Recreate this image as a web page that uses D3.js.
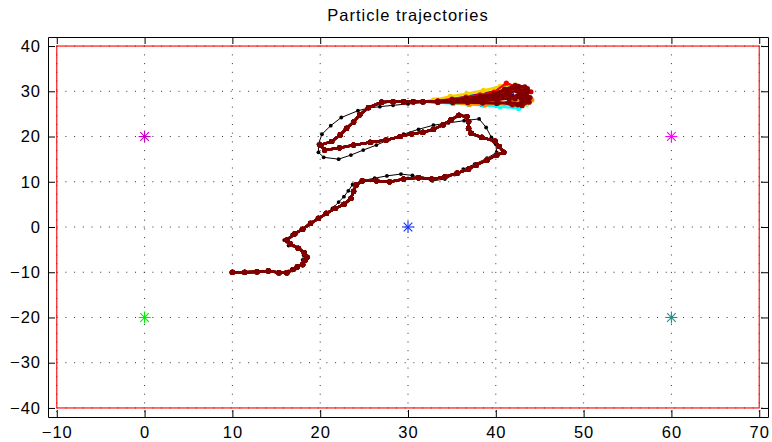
<!DOCTYPE html>
<html>
<head>
<meta charset="utf-8">
<script src="https://cdn.jsdelivr.net/npm/d3@7"></script>
<style>
  html, body { margin: 0; padding: 0; background: #fff; }
  svg { display: block; font-family: "Liberation Sans", Arial, Helvetica, sans-serif; }
</style>
</head>
<body>
<svg id="chart" width="772" height="442"></svg>
<script>
// Axis ticks
const xTicks = [-10, 0, 10, 20, 30, 40, 50, 60, 70];
const yTicks = [-40, -30, -20, -10, 0, 10, 20, 30, 40];

// Arena boundary (red box)
const arenaX = [-10, 70];
const arenaY = [-40, 40];

// Landmarks
const beacons = [[0, 20], [60, 20], [30, 0], [0, -20], [60, -20]];
const beaconColors = ["#bf00bf", "#ff00ff", "#1030ff", "#00ee00", "#1f8f8f"];

// True robot trajectory
const truePath = [
  [10, -10], [11.4, -10], [12.8, -9.9], [14.1, -9.8], [15.4, -10.0], [16.4, -9.8],
  [17.2, -9.2], [17.9, -8.2], [18.0, -7.3], [18.1, -6.2], [17.7, -4.9], [16.4, -4.1],
  [15.9, -2.9], [16.8, -1.7], [17.8, -0.6], [18.8, 0.6], [19.7, 1.8], [20.6, 3.0],
  [21.4, 4.1], [22.1, 5.5], [22.7, 6.7], [23.2, 8.0], [23.7, 9.4], [24.7, 10.2],
  [26.2, 10.8], [27.6, 11.3], [29.2, 11.7], [30.5, 11.4], [31.7, 10.8], [32.8, 10.2],
  [34.2, 10.6], [35.3, 11.6], [36.3, 12.8], [37.6, 13.9], [39.0, 15.2], [40.1, 16.5],
  [40.0, 18.3], [39.5, 19.8], [38.9, 22.0], [38.1, 23.9], [36.4, 23.5], [34.6, 23.0],
  [32.9, 22.5], [31.2, 21.6], [29.5, 20.5], [27.8, 19.3], [26.4, 18.1], [24.9, 17.0],
  [23.5, 15.9], [22.1, 15.0], [20.4, 15.4], [19.8, 16.5], [19.8, 18.3], [20.2, 20.5],
  [21.2, 22.4], [22.4, 24.2], [24.3, 25.7], [25.5, 26.3], [26.8, 26.6], [28.3, 26.9],
  [30.0, 27.2], [31.8, 27.5], [33.6, 27.7], [35.4, 27.9], [37.2, 28.1], [39.0, 28.3],
  [40.8, 28.5], [42.5, 28.8]
];

// Common ancestry shared by all particles
const sharedPath = [
  [10, -10], [11.4, -10.0], [12.8, -9.9], [14.1, -9.7], [15.3, -10.1], [16.2, -10.1],
  [16.9, -9.4], [17.4, -8.8], [18.0, -8.3], [18.3, -7.3], [18.5, -6.7], [18.2, -5.7],
  [17.5, -4.7], [16.6, -3.7], [16.2, -2.9], [17.1, -1.5], [18.0, -0.5], [18.9, 0.8],
  [19.8, 1.9], [20.7, 3.0], [21.7, 4.1], [22.7, 5.0], [23.5, 6.3], [23.8, 7.9],
  [24.1, 9.3], [24.8, 10.2], [26.4, 10.2], [27.9, 10.0], [29.5, 10.6], [31.2, 10.9],
  [32.7, 10.6], [34.2, 11.1], [35.6, 11.9], [36.9, 12.8], [37.8, 13.7], [39.0, 14.8],
  [40.1, 15.9], [40.9, 16.5], [40.4, 17.8], [39.9, 19.0], [38.4, 19.8], [37.2, 20.7],
  [36.9, 21.8], [36.9, 23.3], [36.7, 24.4], [35.8, 24.7], [34.9, 23.7], [34.0, 22.6],
  [32.9, 21.6], [31.7, 20.9], [30.4, 20.6], [29.1, 20.0], [27.5, 19.2], [25.7, 18.7],
  [23.8, 18.1], [22.2, 17.5], [20.5, 17.0], [20.0, 18.1], [21.3, 18.9], [22.3, 20.4],
  [23.0, 21.8], [23.8, 23.2], [24.5, 24.8], [25.5, 26.4], [27.0, 27.6], [28.3, 27.7],
  [29.5, 27.7], [30.6, 27.7], [31.7, 27.7]
];

// Per-particle colours (jet order) and their diverging tails
const tailColors = [
  "#0000bf", "#0000ff", "#0060ff", "#00ffff", "#80ff80", "#c0ff40", "#f5d000", "#ff9000",
  "#ff4000", "#ff0000", "#c00000", "#a00000", "#900000", "#880000", "#800000", "#800000",
  "#800000", "#800000", "#800000"
];
const tails = [
  [[33.4, 27.8], [35.1, 28.0], [36.8, 28.2], [38.5, 28.5], [40.2, 28.8], [41.8, 29.2]],
  [[33.3, 28.0], [34.9, 28.5], [36.6, 29.0], [38.2, 29.6], [39.8, 29.9], [41.3, 30.1]],
  [[33.4, 27.6], [35.1, 27.4], [36.8, 27.3], [38.4, 27.1], [40.1, 27.0], [41.7, 27.2]],
  [[33.4, 27.5], [35.1, 27.3], [36.9, 27.1], [38.6, 26.9], [40.5, 26.6], [42.6, 26.2]],
  [[33.4, 27.6], [35.2, 27.5], [37.0, 27.4], [38.8, 27.3], [40.6, 27.2], [42.1, 27.1], [43.5, 27.1]],
  [[33.3, 28.1], [35.0, 28.7], [36.7, 29.3], [38.4, 29.9], [40.1, 30.6], [41.5, 31.1], [42.3, 31.4]],
  [[32.9, 28.1], [34.8, 28.9], [36.7, 29.5], [38.6, 30.2], [40.5, 31.1], [41.2, 31.6]],
  [[33.4, 27.5], [35.2, 27.4], [37.0, 27.1], [38.8, 27.0], [40.6, 27.4], [42.4, 27.9], [44.1, 28.1]],
  [[33.4, 27.8], [35.1, 28.0], [36.8, 28.2], [38.5, 28.6], [40.2, 29.2], [41.8, 30.0], [43.2, 30.4]],
  [[33.4, 27.9], [35.0, 28.3], [36.6, 28.7], [38.2, 29.2], [39.8, 29.8], [41.2, 31.8], [42.6, 30.8], [43.4, 29.6]],
  [[33.4, 27.7], [35.1, 27.8], [36.8, 27.9], [38.5, 28.0], [40.2, 28.2], [41.8, 28.5], [43.2, 28.9], [44.0, 29.9]],
  [[33.4, 27.6], [35.1, 27.6], [36.8, 27.6], [38.5, 27.6], [40.3, 27.5], [41.9, 27.0], [43.0, 26.8], [43.8, 27.6]],
  [[33.4, 27.8], [35.1, 28.1], [36.8, 28.4], [38.5, 28.8], [40.1, 29.4], [41.4, 30.4], [42.6, 31.1], [43.6, 30.6], [42.8, 29.8]],
  [[33.4, 27.8], [35.0, 28.1], [36.6, 28.5], [38.2, 28.9], [39.8, 29.5], [41.0, 30.5], [42.2, 31.3], [43.3, 31.0]],
  [[33.4, 27.7], [35.1, 27.8], [36.8, 28.0], [38.5, 28.3], [40.1, 28.7], [41.6, 29.1], [42.9, 28.4], [43.9, 28.6], [43.0, 27.6]],
  [[33.4, 27.6], [35.1, 27.5], [36.8, 27.5], [38.5, 27.4], [40.1, 27.3], [41.5, 27.6], [42.8, 27.2], [43.7, 27.9]],
  [[33.4, 27.7], [35.1, 27.9], [36.8, 28.1], [38.4, 28.5], [40.0, 29.0], [41.3, 29.6], [42.4, 30.1], [43.3, 29.4], [42.2, 28.3]],
  [[33.4, 27.8], [35.0, 28.1], [36.7, 28.4], [38.3, 28.8], [39.9, 29.3], [41.2, 30.2], [42.5, 30.6], [43.6, 30.0]],
  [[33.4, 27.7], [35.1, 27.7], [36.8, 27.7], [38.5, 27.9], [40.1, 28.1], [41.5, 28.4], [42.7, 29.5], [43.6, 28.8], [42.5, 27.0]]
];

const W = 772, H = 442;
const plot = { left: 48, right: 768, top: 37, bottom: 417 };

const x = d3.scaleLinear().domain([-11, 71]).range([plot.left, plot.right]);
const y = d3.scaleLinear().domain([-42, 42]).range([plot.bottom, plot.top]);

const svg = d3.select("#chart");
svg.append("rect").attr("width", W).attr("height", H).attr("fill", "#fff");

// Dotted grid
const grid = svg.append("g")
  .attr("stroke", "#333").attr("stroke-width", 1).attr("stroke-dasharray", "1,7.7");
grid.selectAll(".gx").data(xTicks).join("line")
  .attr("x1", d => x(d)).attr("x2", d => x(d))
  .attr("y1", plot.top).attr("y2", plot.bottom);
grid.selectAll(".gy").data(yTicks).join("line")
  .attr("x1", plot.left).attr("x2", plot.right)
  .attr("y1", d => y(d)).attr("y2", d => y(d));

// Arena boundary
svg.append("rect")
  .attr("x", x(arenaX[0])).attr("y", y(arenaY[1]))
  .attr("width", x(arenaX[1]) - x(arenaX[0]))
  .attr("height", y(arenaY[0]) - y(arenaY[1]))
  .attr("fill", "none").attr("stroke", "#ff0000").attr("stroke-width", 1.1);

const line = d3.line().x(d => x(d[0])).y(d => y(d[1]));

// True path: thin black line with small dots
const truth = svg.append("g");
truth.append("path").datum(truePath)
  .attr("d", line).attr("fill", "none").attr("stroke", "#000").attr("stroke-width", 1);
truth.selectAll("circle").data(truePath).join("circle")
  .attr("cx", d => x(d[0])).attr("cy", d => y(d[1])).attr("r", 1.9).attr("fill", "#000");

// Particle trajectories, drawn in colour order
tails.forEach((tail, i) => {
  const pts = sharedPath.concat(tail);
  const g = svg.append("g");
  g.append("path").datum(pts)
    .attr("d", line).attr("fill", "none")
    .attr("stroke", tailColors[i]).attr("stroke-width", 2.3)
    .attr("stroke-linejoin", "round");
  g.selectAll("circle").data(pts).join("circle")
    .attr("cx", d => x(d[0])).attr("cy", d => y(d[1])).attr("r", 2.6)
    .attr("fill", tailColors[i]);
});

// Landmarks as asterisks
const star = svg.append("g");
beacons.forEach((b, i) => {
  const cx = x(b[0]), cy = y(b[1]), r = 6, d = 4.3;
  const s = star.append("g").attr("stroke", beaconColors[i]).attr("stroke-width", 1.1);
  s.append("line").attr("x1", cx - r).attr("x2", cx + r).attr("y1", cy).attr("y2", cy);
  s.append("line").attr("x1", cx).attr("x2", cx).attr("y1", cy - r).attr("y2", cy + r);
  s.append("line").attr("x1", cx - d).attr("x2", cx + d).attr("y1", cy - d).attr("y2", cy + d);
  s.append("line").attr("x1", cx - d).attr("x2", cx + d).attr("y1", cy + d).attr("y2", cy - d);
});

// Axes with inward ticks on all four sides
const fontSize = "16.5px";
const styleAxis = g => {
  g.select(".domain").attr("stroke", "#000").attr("stroke-width", 1);
  g.selectAll(".tick line").attr("stroke", "#000").attr("stroke-width", 1);
  g.selectAll(".tick text").attr("fill", "#000")
    .style("font-size", fontSize).style("letter-spacing", "1px")
    .style("font-family", '"Liberation Sans", Arial, Helvetica, sans-serif');
};

svg.append("g").attr("transform", `translate(0,${plot.bottom})`)
  .call(d3.axisBottom(x).tickValues(xTicks).tickSize(-7).tickSizeOuter(0).tickPadding(9))
  .call(styleAxis);
svg.append("g").attr("transform", `translate(0,${plot.top})`)
  .call(d3.axisTop(x).tickValues(xTicks).tickSize(-7).tickSizeOuter(0).tickFormat(""))
  .call(styleAxis);
svg.append("g").attr("transform", `translate(${plot.left},0)`)
  .call(d3.axisLeft(y).tickValues(yTicks).tickSize(-7).tickSizeOuter(0).tickPadding(7))
  .call(styleAxis);
svg.append("g").attr("transform", `translate(${plot.right},0)`)
  .call(d3.axisRight(y).tickValues(yTicks).tickSize(-7).tickSizeOuter(0).tickFormat(""))
  .call(styleAxis);

// Title
svg.append("text")
  .attr("x", (plot.left + plot.right) / 2).attr("y", 21)
  .attr("text-anchor", "middle")
  .style("font-size", fontSize).style("letter-spacing", "1px")
  .attr("fill", "#000")
  .text("Particle trajectories");
</script>
</body>
</html>
